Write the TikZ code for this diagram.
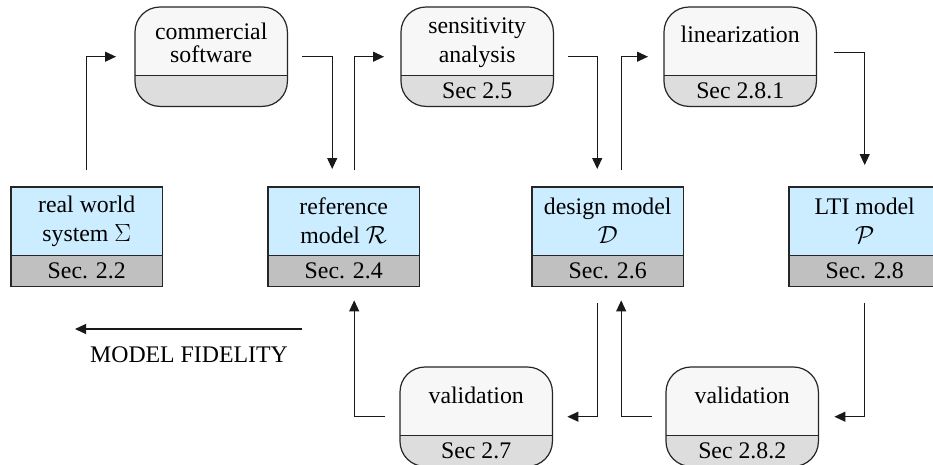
\documentclass[tikz,border=0pt]{standalone}
\usepackage{fontspec}
\setmainfont{Liberation Serif}
\usetikzlibrary{arrows.meta}
\definecolor{bluefill}{HTML}{CCECFF}
\definecolor{sqgray}{HTML}{C0C0C0}
\definecolor{rdtop}{HTML}{F7F7F7}
\definecolor{rdgray}{HTML}{DDDDDD}
\tikzset{
  boxframe/.style={inner sep=0pt, minimum height=99pt, draw=none},
  boxline/.style={draw=black!85, line width=1.2pt},
  lbl/.style={align=center, inner sep=0pt, font=\fontsize{23.8}{29}\selectfont},
  arr/.style={draw=black!90, line width=1.1pt, -{Triangle[length=11pt,width=10pt]}},
}
\newcommand\SqBox[5]{%
  \node[boxframe, minimum width=151pt, anchor=north west] (#1) at (#2,#3) {};
  \fill[bluefill] (#1.north west) rectangle ([yshift=31pt]#1.south east);
  \fill[sqgray] ([yshift=31pt]#1.south west) rectangle (#1.south east);
  \draw[boxline] ([yshift=31pt]#1.south west) -- ([yshift=31pt]#1.south east);
  \draw[boxline] (#1.north west) rectangle (#1.south east);
  \node[lbl] (#1-t) at ([yshift=-34pt]#1.north) {#4};
  \node[lbl] (#1-s) at ([yshift=15.5pt]#1.south) {#5};
}
\newcommand\RdBox[6]{%
  \node[boxframe, minimum width=152pt, anchor=north west] (#1) at (#2,#3) {};
  \begin{scope}
    \clip[rounded corners=25pt] (#1.north west) rectangle (#1.south east);
    \fill[rdtop] (#1.north west) rectangle ([yshift=31pt]#1.south east);
    \fill[rdgray] ([yshift=31pt]#1.south west) rectangle (#1.south east);
  \end{scope}
  \draw[boxline] ([yshift=31pt]#1.south west) -- ([yshift=31pt]#1.south east);
  \draw[boxline, rounded corners=25pt] (#1.north west) rectangle (#1.south east);
  \node[lbl] (#1-t) at ([yshift=-#6pt]#1.north) {#4};
  \node[lbl] (#1-s) at ([yshift=15.5pt]#1.south) {#5};
}
\begin{document}
\begin{tikzpicture}[x=1pt, y=-1pt]
\useasboundingbox (0,0) rectangle (933,464);
\fill[white] (0,0) rectangle (933,464);

% square boxes
\SqBox{rw}{11}{187}{real world\\system $\Sigma$}{Sec. 2.2}
\SqBox{ref}{268}{187}{reference\\model $\mathcal{R}$}{Sec. 2.4}
\SqBox{dm}{532}{187}{design model\\$\mathcal{D}$}{Sec. 2.6}
\SqBox{lti}{789}{187}{LTI model\\$\mathcal{P}$}{Sec. 2.8}

% rounded boxes
\RdBox{cs}{135}{7}{commercial\\[-6pt]software}{}{36}
\RdBox{sa}{401}{7}{sensitivity\\analysis}{Sec 2.5}{36}
\RdBox{lin}{664}{7}{linearization}{Sec 2.8.1}{27}
\RdBox{va}{400}{367}{validation}{Sec 2.7}{28}
\RdBox{vb}{666}{367}{validation}{Sec 2.8.2}{28}

% connectors
\draw[arr, shorten >=19pt] ([xshift=-0.5pt,yshift=17pt]rw.north) |- (cs.west);
\draw[arr] ([xshift=15pt]cs.east) -| ([xshift=-11.5pt,yshift=18pt]ref.north);
\draw[arr, shorten >=17pt] ([xshift=10.5pt,yshift=17pt]ref.north) |- (sa.west);
\draw[arr] ([xshift=15pt]sa.east) -| ([xshift=-10.5pt,yshift=18pt]dm.north);
\draw[arr, shorten >=16pt] ([xshift=13.5pt,yshift=17pt]dm.north) |- (lin.west);
\draw[arr] ([xshift=18pt,yshift=4.5pt]lin.east) -| ([yshift=22pt]lti.north);
\draw[arr, shorten >=16pt] ([xshift=-0.5pt,yshift=-17pt]lti.south) |- (vb.east);
\draw[arr] ([xshift=-14pt]vb.west) -| ([xshift=13.5pt,yshift=-14pt]dm.south);
\draw[arr, shorten >=15pt] ([xshift=-10.5pt,yshift=-17pt]dm.south) |- (va.east);
\draw[arr] ([xshift=-15pt]va.west) -| ([xshift=10.5pt,yshift=-14pt]ref.south);

% model fidelity
\coordinate (mfa) at (302,329);
\coordinate (mfb) at (75,329);
\draw[arr] (mfa) -- (mfb);
\node[lbl] (mft) at (189,355) {MODEL FIDELITY};
\end{tikzpicture}
\end{document}
